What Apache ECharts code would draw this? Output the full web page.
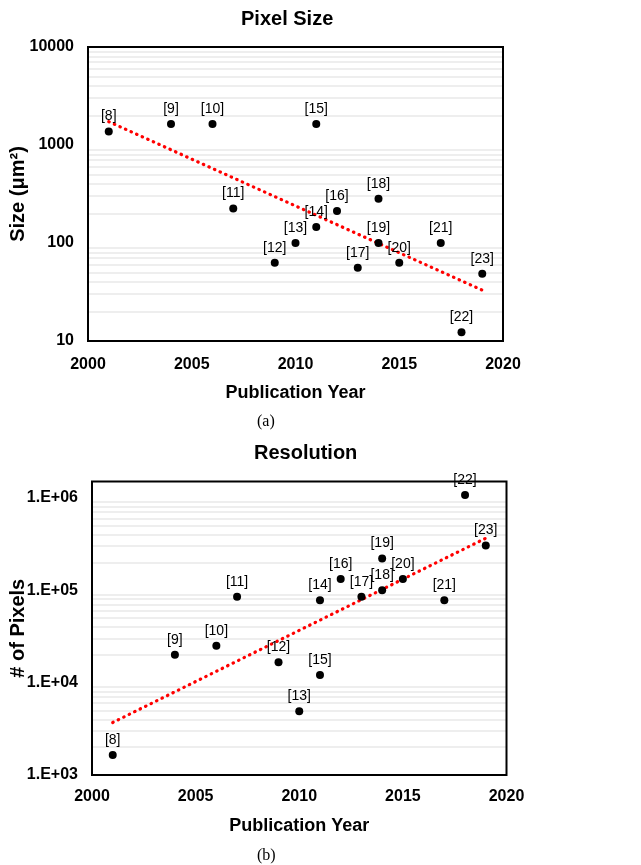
<!DOCTYPE html>
<html><head><meta charset="utf-8">
<script src="https://cdn.jsdelivr.net/npm/echarts@6/dist/echarts.min.js"></script>
<style>html,body{margin:0;padding:0;background:#fff}#c{width:641px;height:865px}</style>
</head><body><div id="c"></div>
<script>
// ---- data ----
const refs = ['[8]','[9]','[10]','[11]','[12]','[13]','[14]','[15]','[16]','[17]','[18]','[19]','[20]','[21]','[22]','[23]'];
const years = [2001,2004,2006,2007,2009,2010,2011,2011,2012,2013,2014,2014,2015,2017,2018,2019];
const pixelSize = [1370,1640,1640,225,63,100,146,1640,212,56,283,100,63,100,12.3,48.6];
const pixelCount = [1650,20000,25000,85000,16600,4900,78000,12100,132000,85000,100000,220000,132000,78000,1070000,305000];
const trendYears = [2001, 2019];
const sizeTrend = [1730, 33];
const countTrend = [3700, 365000];
const xTicks = [2000, 2005, 2010, 2015, 2020];
const sizeTicks = ['10','100','1000','10000'];
const countTicks = ['1.E+03','1.E+04','1.E+05','1.E+06'];

const FONT = "'Liberation Sans', Arial, sans-serif";

function pairs(xs, ys){ return xs.map((x,i)=>[x, ys[i]]); }
function minorGrid(loExp, hiExp){
  const out = [];
  for (let k = loExp; k < hiExp; k++) for (let m = 2; m <= 9; m++) out.push({yAxis: m * Math.pow(10, k)});
  return out;
}
function logFormatter(ticks, firstExp){
  return function(v){
    const l = Math.log10(v), r = Math.round(l);
    if (Math.abs(l - r) > 1e-6) return '';
    return ticks[r - firstExp] || '';
  };
}

const chart = echarts.init(document.getElementById('c'), null, {renderer:'canvas'});

function xAxis(gridIndex, margin, nameGap){
  return {
    type:'value', gridIndex, min:xTicks[0], max:xTicks[xTicks.length-1], interval:5,
    axisLine:{show:false}, axisTick:{show:false}, splitLine:{show:false},
    axisLabel:{fontFamily:FONT, fontSize:16, fontWeight:'bold', color:'#000', margin,
               formatter:v => String(v)},
    name:'Publication Year', nameLocation:'middle', nameGap, nameMoveOverlap:false,
    nameTextStyle:{fontFamily:FONT, fontSize:18, fontWeight:'bold', color:'#000'}
  };
}
function yAxis(gridIndex, min, max, ticks, firstExp, name, nameGap){
  return {
    type:'log', logBase:10, gridIndex, min, max,
    axisLine:{show:false}, axisTick:{show:false}, splitLine:{show:false},
    axisLabel:{fontFamily:FONT, fontSize:16, fontWeight:'bold', color:'#000', margin:14,
               formatter:logFormatter(ticks, firstExp)},
    name, nameLocation:'middle', nameGap, nameMoveOverlap:false,
    nameTextStyle:{fontFamily:FONT, fontSize:20, fontWeight:'bold', color:'#000'}
  };
}
function scatter(idx, vals){
  return {
    type:'scatter', xAxisIndex:idx, yAxisIndex:idx, z:4,
    data: pairs(years, vals), symbolSize:8, itemStyle:{color:'#000', opacity:1},
    label:{show:true, position:'top', distance:4, fontFamily:FONT, fontSize:14, color:'#000',
           formatter:p => refs[p.dataIndex]},
    emphasis:{disabled:true}
  };
}
function trend(idx, vals, lo, hi){
  return {
    type:'line', xAxisIndex:idx, yAxisIndex:idx, z:3, symbol:'none', silent:true,
    data: pairs(trendYears, vals),
    lineStyle:{color:'#ff0000', width:3.2, type:[0.5,5.6], cap:'round'},
    markLine:{silent:true, symbol:'none', z:1, label:{show:false},
      lineStyle:{color:'#eeeeee', width:1.8, type:'solid'}, data:minorGrid(lo, hi)}
  };
}

chart.setOption({
  animation:false,
  backgroundColor:'#fff',
  title:[
    {text:'Pixel Size', left:241, top:9, padding:0, textStyle:{fontFamily:FONT, fontSize:20, fontWeight:'bold', color:'#000'}},
    {text:'Resolution', left:254, top:443, padding:0, textStyle:{fontFamily:FONT, fontSize:20, fontWeight:'bold', color:'#000'}},
    {text:'(a)', left:257, top:414, padding:0, textStyle:{fontFamily:"'Liberation Serif', 'Times New Roman', serif", fontSize:16, fontWeight:'normal', color:'#000'}},
    {text:'(b)', left:257, top:848, padding:0, textStyle:{fontFamily:"'Liberation Serif', 'Times New Roman', serif", fontSize:16, fontWeight:'normal', color:'#000'}}
  ],
  grid:[
    {z:2, left:88, top:47, width:415, height:294, show:true, borderColor:'#000', borderWidth:2, backgroundColor:'transparent', containLabel:false, outerBoundsMode:'none'},
    {z:2, left:92, top:481.5, width:414.5, height:293.5, show:true, borderColor:'#000', borderWidth:2, backgroundColor:'transparent', containLabel:false, outerBoundsMode:'none'}
  ],
  xAxis:[ xAxis(0, 16, 43), xAxis(1, 14, 42) ],
  yAxis:[
    yAxis(0, 10, 10000, sizeTicks, 1, 'Size (μm²)', 60),
    yAxis(1, 1000, 1500000, countTicks, 3, '# of Pixels', 64)
  ],
  series:[
    trend(0, sizeTrend, 1, 4),
    scatter(0, pixelSize),
    trend(1, countTrend, 3, 6),
    scatter(1, pixelCount)
  ]
});
</script></body></html>
